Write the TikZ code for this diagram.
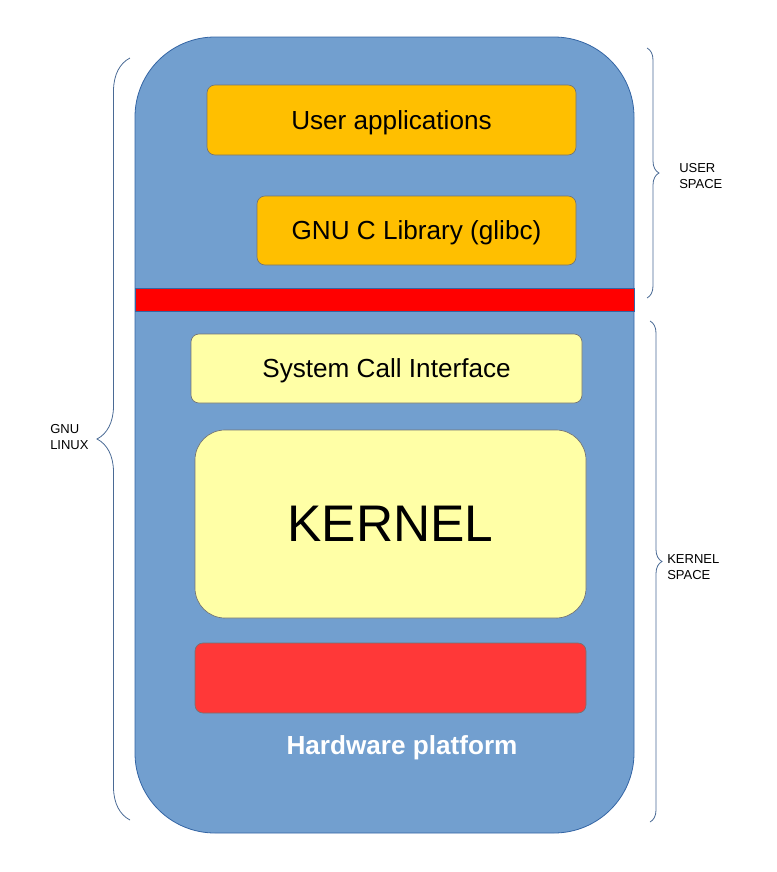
\documentclass[tikz,border=0pt]{standalone}
\usepackage{fontspec}
\setmainfont{Liberation Sans}
\usetikzlibrary{decorations.pathreplacing}
\usepackage{xcolor}
\definecolor{platformblue}{HTML}{729FCF}
\definecolor{platformedge}{HTML}{3465A4}
\definecolor{userorange}{HTML}{FFBF00}
\definecolor{kernelyellow}{HTML}{FFFFA6}
\definecolor{hwred}{HTML}{FF3838}
\definecolor{bracecol}{HTML}{4A6A95}

\begin{document}
\begin{tikzpicture}[
  x=0.75pt, y=-0.75pt,
  font=\fontsize{19.6}{23}\selectfont,
  strato/.style={draw=black!55, line width=0.5pt, rounded corners=6pt, inner sep=0pt,
                 text depth=0pt, minimum width=293.25pt, minimum height=51.75pt},
  utente/.style={strato, fill=userorange},
  nucleo/.style={strato, fill=kernelyellow},
  graffa/.style={draw=bracecol, line width=0.6pt, decorate,
                 decoration={brace, amplitude=9pt}},
  etichetta/.style={anchor=west, align=left, inner sep=0pt,
                    font=\fontsize{9.75}{11.8}\selectfont}
]
\useasboundingbox (0,0) rectangle (777,872);

% piattaforma
\node[draw=platformedge, fill=platformblue, line width=0.6pt, rounded corners=60pt,
      minimum width=374.25pt, minimum height=597pt] (P) at (384.5,435) {};
\node[draw=platformedge, fill=red, line width=0.5pt, inner sep=0pt,
      minimum width=374.25pt, minimum height=17.25pt] (SEP) at (384.5,299.5) {};

% spazio utente
\node[utente, minimum width=276.75pt, minimum height=52.5pt] (UA) at (391.5,120) {User applications};
\node[utente, minimum width=239.25pt] (LIBC) at (416.5,230.5) {GNU C Library (glibc)};

% spazio kernel
\node[nucleo] (SCI) at (386.5,368.5) {System Call Interface};
\node[nucleo, rounded corners=22.5pt, minimum height=141pt,
      font=\fontsize{38.6}{44}\selectfont] (K) at (390.5,524) {KERNEL};
\node[strato, fill=hwred, minimum height=52.5pt] (HW) at (390.5,678) {};
\node[text=white, text depth=0pt, font=\fontsize{19.6}{23}\selectfont\bfseries] (HWL) at (402,745) {Hardware platform};

% graffe
\draw[graffa, decoration={amplitude=24.75pt}] (130,820) -- (130,58);
\draw[graffa] (647,48) -- (647,298);
\draw[graffa, decoration={aspect=0.48}] (650,321) -- (650,822);

\node[etichetta] (GL) at (50,437) {GNU\\LINUX};
\node[etichetta] (US) at (679,176) {USER\\SPACE};
\node[etichetta] (KS) at (667,567) {KERNEL\\SPACE};

\end{tikzpicture}
\end{document}
